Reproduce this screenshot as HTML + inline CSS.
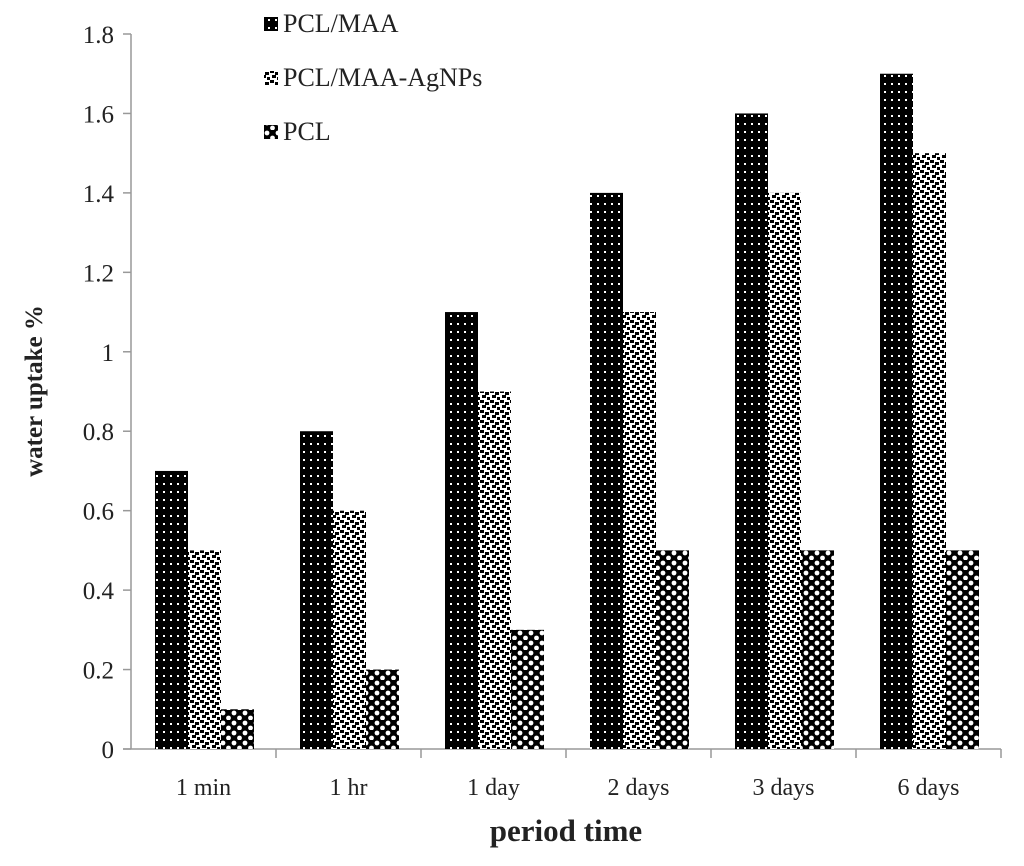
<!DOCTYPE html>
<html><head><meta charset="utf-8"><style>
body{margin:0;background:#fff;font-family:"Liberation Serif",serif}
</style></head><body>
<svg width="1024" height="861" xmlns="http://www.w3.org/2000/svg">
<defs>
<pattern id="pMAA" width="7" height="8" patternUnits="userSpaceOnUse"><rect width="7" height="8" fill="#000"/><rect x="2" y="3" width="2" height="2" fill="#fff"/></pattern>
<pattern id="pAg" width="10" height="10" patternUnits="userSpaceOnUse"><rect width="10" height="10" fill="#fff"/><rect x="0" y="0" width="4" height="3" fill="#000"/><rect x="5" y="2" width="4" height="3" fill="#000"/><rect x="2" y="5" width="4" height="3" fill="#000"/><rect x="7" y="7" width="3" height="3" fill="#000"/></pattern>
<pattern id="pPCL" width="11" height="10" patternUnits="userSpaceOnUse"><rect width="11" height="10" fill="#000"/><circle cx="3" cy="3" r="2.4" fill="#fff"/><circle cx="8.5" cy="8" r="2.4" fill="#fff"/></pattern>
</defs>
<g id="plot"></g>
</svg>
<script>
const categories=["1 min","1 hr","1 day","2 days","3 days","6 days"];
const pclMaa=[0.7,0.8,1.1,1.4,1.6,1.7];
const pclMaaAg=[0.5,0.6,0.9,1.1,1.4,1.5];
const pcl=[0.1,0.2,0.3,0.5,0.5,0.5];
const yTicks=["0","0.2","0.4","0.6","0.8","1","1.2","1.4","1.6","1.8"];
const seriesNames=["PCL/MAA","PCL/MAA-AgNPs","PCL"];
const NS="http://www.w3.org/2000/svg";
const g=document.getElementById('plot');
const x0=131,x1=1001,y0=749,y1=34,ymax=1.8;
const gw=(x1-x0)/categories.length;
const y=v=>y0-(v/ymax)*(y0-y1);
function mk(t,a){const e=document.createElementNS(NS,t);for(const k in a)e.setAttribute(k,a[k]);g.appendChild(e);return e;}
let ax=mk('line',{x1:x0,y1:y1,x2:x0,y2:y0,stroke:'#999','stroke-width':1.5});

let bx=mk('line',{x1:x0-8,y1:y0,x2:x1,y2:y0,stroke:'#999','stroke-width':1.5});

yTicks.forEach((t,i)=>{const v=parseFloat(t);const yy=y(v);
 let tk=mk('line',{x1:x0-8,y1:yy,x2:x0,y2:yy,stroke:'#999','stroke-width':1.5});
 
 let tx=mk('text',{x:x0-17,y:yy+9,'text-anchor':'end','font-size':25,fill:'#222'});tx.textContent=t;
 });
categories.forEach((c,i)=>{const gx=x0+i*gw;
 let tk=mk('line',{x1:gx+gw,y1:y0,x2:gx+gw,y2:y0+9,stroke:'#999','stroke-width':1.5});
 
 let tx=mk('text',{x:gx+gw/2,y:y0+46,'text-anchor':'middle','font-size':24,fill:'#222'});tx.textContent=c;
 
 [[pclMaa,'pMAA','bar-pcl-maa'],[pclMaaAg,'pAg','bar-pcl-maa-agnps'],[pcl,'pPCL','bar-pcl']].forEach((s,j)=>{
  const v=s[0][i];const bw=33;const bxp=gx+24+j*bw;
  let r=mk('rect',{x:bxp,y:y(v),width:bw,height:y0-y(v),fill:'url(#'+s[1]+')'});
  });});
const pats=['pMAA','pAg','pPCL'];
seriesNames.forEach((n,i)=>{const ly=32+i*54;
 let r=mk('rect',{x:264,y:ly-15,width:14,height:14,fill:'url(#'+pats[i]+')'});
 
 let t=mk('text',{x:283,y:ly,'font-size':26,fill:'#222'});t.textContent=n;
 });
let yt=mk('text',{x:0,y:0,'font-size':25,'font-weight':'bold',fill:'#222','text-anchor':'middle',transform:'translate(42,391) rotate(-90)'});
yt.textContent='water uptake %';
let xt=mk('text',{x:566,y:841,'font-size':31,'font-weight':'bold',fill:'#222','text-anchor':'middle'});
xt.textContent='period time';
</script>
</body></html>
